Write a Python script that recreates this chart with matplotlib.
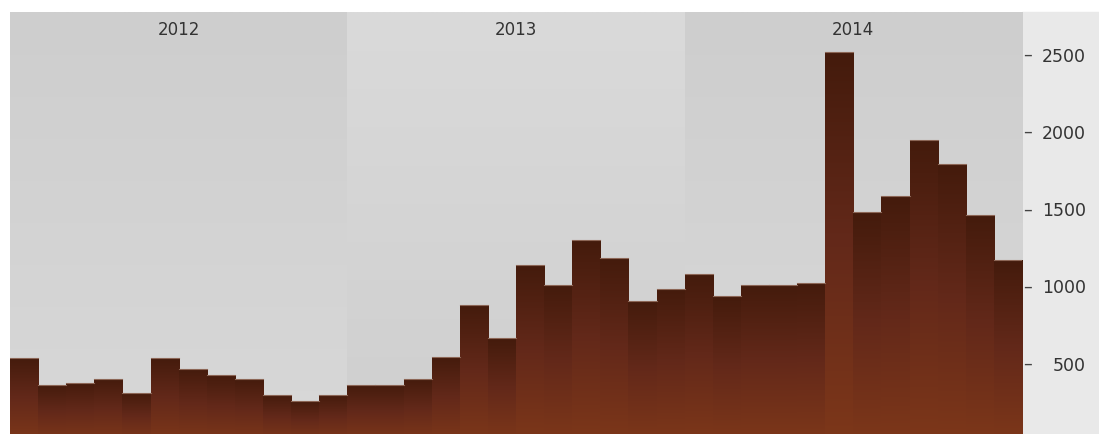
import numpy as np
import matplotlib
matplotlib.use("Agg")
import matplotlib.pyplot as plt
from matplotlib.colors import LinearSegmentedColormap
from matplotlib.patches import Rectangle

plt.rcParams['font.family'] = ['DejaVu Sans']

years = ['2012', '2013', '2014']
v2012 = [539, 364, 377, 403, 313, 539, 468, 429, 403, 300, 261, 300]
v2013 = [364, 364, 403, 546, 883, 664, 1141, 1012, 1300, 1183, 908, 986]
v2014 = [1078, 936, 1012, 1012, 1025, 2517, 1481, 1584, 1946, 1791, 1465, 1170]
values = v2012 + v2013 + v2014
yticks = [500, 1000, 1500, 2000, 2500]

ymin, ymax = 45, 2777

fig = plt.figure(figsize=(10.99, 4.34), dpi=100)
# right side panel
fig.patches.append(Rectangle((1022/1099, 0), 77/1099, 422/434,
                             transform=fig.transFigure, color='#e9e9e9', zorder=-5))

ax = fig.add_axes([10/1099, 0, 1012/1099, 422/434])
ax.set_xlim(0, len(values))
ax.set_ylim(ymin, ymax)

# year bands with soft vertical gradients
band_a = LinearSegmentedColormap.from_list('a', ['#d8d8d8', '#cecece'])
band_b = LinearSegmentedColormap.from_list('b', ['#cfcfcf', '#dadada'])
grad = np.linspace(0, 1, 256).reshape(-1, 1)
for i, yr in enumerate(years):
    cm = band_a if i % 2 == 0 else band_b
    ax.imshow(grad, extent=(i*12, i*12+12, ymin, ymax), origin='lower',
              cmap=cm, aspect='auto', zorder=0)
    ax.text(i*12+6, 2660, yr, ha='center', va='center', fontsize=12,
            color='#333333', zorder=5)

# bars with per-bar gradient
bar_cm = LinearSegmentedColormap.from_list('bar', ['#7d3719', '#64291a', '#441b0c'])
x = np.arange(len(values)) + 0.5
bars = ax.bar(x, values, width=1.0, color='none', edgecolor='none', zorder=2)
for b, v in zip(bars, values):
    im = ax.imshow(grad, extent=(b.get_x(), b.get_x()+1, 0, v), origin='lower',
                   cmap=bar_cm, aspect='auto', zorder=2)
    im.set_clip_path(b)
    ax.plot([b.get_x(), b.get_x()+1], [v, v], color='#8c6656', lw=0.8, zorder=3)
ax.set_xlim(0, len(values))
ax.set_ylim(ymin, ymax)

for s in ax.spines.values():
    s.set_visible(False)
ax.set_xticks([])
ax.yaxis.tick_right()
ax.set_yticks(yticks)
ax.set_yticklabels([str(t) for t in yticks])
ax.tick_params(axis='y', which='major', length=0, pad=46,
               labelsize=12.5, labelcolor='#333333')
for lbl in ax.get_yticklabels():
    lbl.set_horizontalalignment('right')

# tick dashes on the right panel
tr = ax.get_yaxis_transform()
for t in yticks:
    ax.text(1.0015, t, '\u2013', transform=tr, ha='left', va='center',
            fontsize=12.5, color='#444444', clip_on=False, zorder=6)

fig.savefig('out.png', dpi=100)
